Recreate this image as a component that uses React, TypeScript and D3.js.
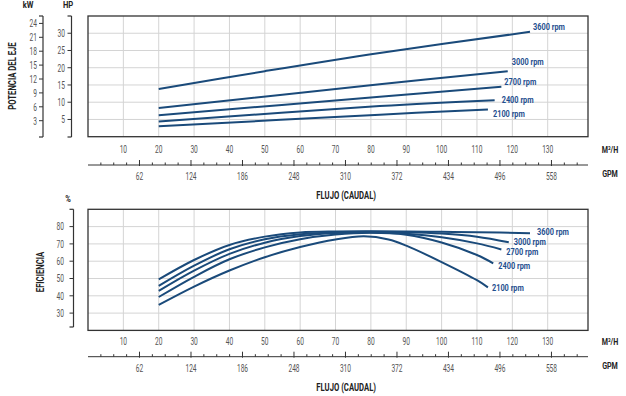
import React from "react";
import * as d3 from "d3";

// ---------- data ----------
const flowTicks = [10, 20, 30, 40, 50, 60, 70, 80, 90, 100, 110, 120, 130];
const gpmLabels = [62, 124, 186, 248, 310, 372, 434, 496, 558];
const hpTicks = [5, 10, 15, 20, 25, 30];
const kwTicks = [3, 6, 9, 12, 15, 18, 21, 24];
const effTicks = [30, 40, 50, 60, 70, 80];
const speeds = ["3600 rpm", "3000 rpm", "2700 rpm", "2400 rpm", "2100 rpm"];
const effSpeedLabels = ["3600 rpm", "3000 rpm", "2700 rpm", "2400 rpm", "2100  rpm"];

// power (HP) vs flow (m3/h)
const hpFlow3600 = [20, 50, 82.5, 125];
const hpVal3600 = [13.8, 19.0, 24.3, 30.4];
const hpFlow3000 = [20, 82.5, 118.7];
const hpVal3000 = [8.3, 15.2, 19.0];
const hpFlow2700 = [20, 82.5, 116.9];
const hpVal2700 = [6.2, 11.6, 14.5];
const hpFlow2400 = [20, 82.5, 115];
const hpVal2400 = [4.4, 8.9, 10.6];
const hpFlow2100 = [20, 82.5, 113.1];
const hpVal2100 = [3.0, 6.4, 7.9];

// efficiency (%) vs flow (m3/h)
const effFlow3600 = [20, 30, 40, 50, 60, 70, 80, 90, 100, 110, 125];
const effVal3600 = [49.5, 60.7, 69.4, 74.2, 76.6, 77.2, 77.3, 77.2, 77.0, 76.8, 76.1];
const effFlow3000 = [20, 30, 40, 50, 60, 70, 80, 90, 100, 110, 119];
const effVal3000 = [45.7, 57.4, 66.9, 72.7, 75.6, 76.8, 77.0, 76.8, 76.0, 74.2, 71.0];
const effFlow2700 = [20, 30, 40, 50, 60, 70, 80, 90, 100, 110, 116.9];
const effVal2700 = [42.8, 54.5, 64.2, 70.7, 74.5, 76.3, 76.6, 75.8, 73.8, 70.3, 66.8];
const effFlow2400 = [20, 30, 40, 50, 60, 70, 80, 90, 100, 110, 114.6];
const effVal2400 = [39.3, 51.0, 61.1, 68.0, 72.7, 75.4, 76.4, 75.3, 70.8, 63.6, 58.8];
const effFlow2100 = [20, 30, 40, 50, 60, 70, 78, 85, 90, 100, 110, 113.1];
const effVal2100 = [34.7, 45.3, 54.6, 62.3, 68.2, 72.6, 74.4, 72.6, 69.0, 59.5, 49.0, 44.9];

const hpSeries = [
  [hpFlow3600, hpVal3600],
  [hpFlow3000, hpVal3000],
  [hpFlow2700, hpVal2700],
  [hpFlow2400, hpVal2400],
  [hpFlow2100, hpVal2100],
];
const effSeries = [
  [effFlow3600, effVal3600],
  [effFlow3000, effVal3000],
  [effFlow2700, effVal2700],
  [effFlow2400, effVal2400],
  [effFlow2100, effVal2100],
];

// label offsets from curve end (layout)
const hpLabelOffsets = [[3, -5], [4, -9], [3, -5], [7, 0], [5, 4]];
const effLabelOffsets = [[7, -2], [5, -0.5], [5, 2.5], [5, 3], [4, 1]];

// ---------- layout ----------
const W = 626;
const H = 396;
const PL = 88;
const PR = 588;
const FONT = "Roboto, 'Liberation Sans', sans-serif";
const CURVE = "#1a4a7a";
const LABEL = "#1f4f8f";
const GRID = "#d4d4d4";
const TICKTXT = "#555";

const x = d3.scaleLinear().domain([0, 141.4]).range([PL, PR]);
const gpm = d3.scaleLinear().domain([0, 602]).range([PL, PR]);
const yHP = d3.scaleLinear().domain([0, 35]).range([136.7, 16]);
const yKW = d3.scaleLinear().domain([0, 25.6]).range([134.6, 16]);
const yEff = d3.scaleLinear().domain([20, 90]).range([330.4, 209.3]);

function T({ x, y, s = 11, sx = 0.6, w = "normal", fill = TICKTXT, anchor = "start", rot = 0, children }: any) {
  return (
    <text
      transform={`translate(${x},${y})${rot ? ` rotate(${rot})` : ""} scale(${sx},1)`}
      dy="0.35em"
      textAnchor={anchor}
      fontSize={s}
      fontWeight={w}
      fill={fill}
      fontFamily={FONT}
    >
      {children}
    </text>
  );
}

function FlowAxis({ y0 }: { y0: number }) {
  const minor = d3.range(15.5, 600, 15.5);
  return (
    <g>
      <line x1={PL} x2={PR} y1={y0} y2={y0} stroke="#333" strokeWidth={1} />
      {minor.map((g, i) => {
        const major = (i + 1) % 4 === 0;
        return (
          <line
            key={i}
            x1={gpm(g)}
            x2={gpm(g)}
            y1={major ? y0 + 1 : y0}
            y2={major ? y0 - 5 : y0 - 2.5}
            stroke="#333"
            strokeWidth={1}
          />
        );
      })}
      {flowTicks.map((t) => (
        <T key={t} x={x(t)} y={y0 - 15.5} anchor="middle">
          {t}
        </T>
      ))}
      {gpmLabels.map((t) => (
        <T key={t} x={gpm(t)} y={y0 + 11.5} anchor="middle">
          {t}
        </T>
      ))}
      <T x={376} y={y0 + 30.5} anchor="end" s={11} sx={0.7} w="bold" fill="#222">
        FLUJO (CAUDAL)
      </T>
      <T x={610} y={y0 - 15.5} anchor="middle" s={9.5} sx={0.75} w="bold" fill="#222">
        M³/H
      </T>
      <T x={610} y={y0 + 8.5} anchor="middle" s={9.5} sx={0.75} w="bold" fill="#222">
        GPM
      </T>
    </g>
  );
}

function Bracket({ xl, y1, y2, ticks, scale, labelX }: any) {
  return (
    <g>
      <line x1={xl} x2={xl} y1={y1} y2={y2} stroke="#333" strokeWidth={1.2} />
      <line x1={xl - 4} x2={xl} y1={y1} y2={y1} stroke="#333" strokeWidth={1.2} />
      <line x1={xl - 4} x2={xl} y1={y2} y2={y2} stroke="#333" strokeWidth={1.2} />
      {ticks.map((t: number) => (
        <g key={t}>
          <line x1={xl - 4} x2={xl} y1={scale(t)} y2={scale(t)} stroke="#333" strokeWidth={1} />
          <T x={labelX} y={scale(t)} anchor="end">
            {t}
          </T>
        </g>
      ))}
    </g>
  );
}

export default function App() {
  const hpLine = d3
    .line<[number, number]>()
    .x((d) => x(d[0]))
    .y((d) => yHP(d[1]))
    .curve(d3.curveCatmullRom.alpha(0.5));
  const effLine = d3
    .line<[number, number]>()
    .x((d) => x(d[0]))
    .y((d) => yEff(d[1]))
    .curve(d3.curveCatmullRom.alpha(0.5));

  const zip = (f: number[], v: number[]) => f.map((q, i) => [q, v[i]] as [number, number]);

  return (
    <svg width={W} height={H} style={{ position: "absolute", left: 0, top: 0, background: "#fff" }}>
      <rect x={0} y={0} width={W} height={H} fill="#fff" />
      {/* ---------- top panel ---------- */}
      <g>
        {flowTicks.map((t) => (
          <line key={t} x1={x(t)} x2={x(t)} y1={yHP(35)} y2={yHP(0)} stroke={GRID} strokeWidth={1} />
        ))}
        {hpTicks.map((t) => (
          <line key={t} x1={PL} x2={PR} y1={yHP(t)} y2={yHP(t)} stroke={GRID} strokeWidth={1} />
        ))}
        <rect x={PL} y={yHP(35)} width={PR - PL} height={yHP(0) - yHP(35)} fill="none" stroke="#333" strokeWidth={1.3} />
        {hpSeries.map(([f, v], i) => (
          <path key={i} d={hpLine(zip(f, v)) || ""} fill="none" stroke={CURVE} strokeWidth={2} />
        ))}
        {hpSeries.map(([f, v], i) => (
          <T
            key={i}
            x={x(f[f.length - 1]) + hpLabelOffsets[i][0]}
            y={yHP(v[v.length - 1]) + hpLabelOffsets[i][1]}
            s={9}
            sx={0.82}
            w="bold"
            fill={LABEL}
          >
            {speeds[i]}
          </T>
        ))}
        <Bracket xl={43} y1={16} y2={137} ticks={kwTicks} scale={yKW} labelX={37} />
        <Bracket xl={71.5} y1={16} y2={137} ticks={hpTicks} scale={yHP} labelX={65} />
        <T x={28} y={5} anchor="middle" s={9.5} sx={0.8} w="bold" fill="#222">
          kW
        </T>
        <T x={68} y={5} anchor="middle" s={9.5} sx={0.8} w="bold" fill="#222">
          HP
        </T>
        <T x={12} y={76} rot={-90} anchor="middle" s={11} sx={0.7} w="bold" fill="#222">
          POTENCIA DEL EJE
        </T>
      </g>
      <FlowAxis y0={165} />

      {/* ---------- bottom panel ---------- */}
      <g>
        {flowTicks.map((t) => (
          <line key={t} x1={x(t)} x2={x(t)} y1={yEff(90)} y2={yEff(20)} stroke={GRID} strokeWidth={1} />
        ))}
        {effTicks.map((t) => (
          <line key={t} x1={PL} x2={PR} y1={yEff(t)} y2={yEff(t)} stroke={GRID} strokeWidth={1} />
        ))}
        <rect x={PL} y={yEff(90)} width={PR - PL} height={yEff(20) - yEff(90)} fill="none" stroke="#333" strokeWidth={1.3} />
        {effSeries.map(([f, v], i) => (
          <path key={i} d={effLine(zip(f, v)) || ""} fill="none" stroke={CURVE} strokeWidth={2} />
        ))}
        {effSeries.map(([f, v], i) => (
          <T
            key={i}
            x={x(f[f.length - 1]) + effLabelOffsets[i][0]}
            y={yEff(v[v.length - 1]) + effLabelOffsets[i][1]}
            s={9}
            sx={0.82}
            w="bold"
            fill={LABEL}
          >
            {effSpeedLabels[i]}
          </T>
        ))}
        <Bracket xl={73.5} y1={209.3} y2={327} ticks={effTicks} scale={yEff} labelX={64} />
        <T x={68} y={199} anchor="middle" s={9.5} sx={0.8} w="bold" fill="#222">
          %
        </T>
        <T x={40} y={272} rot={-90} anchor="middle" s={11} sx={0.7} w="bold" fill="#222">
          EFICIENCIA
        </T>
      </g>
      <FlowAxis y0={356.7} />
    </svg>
  );
}
